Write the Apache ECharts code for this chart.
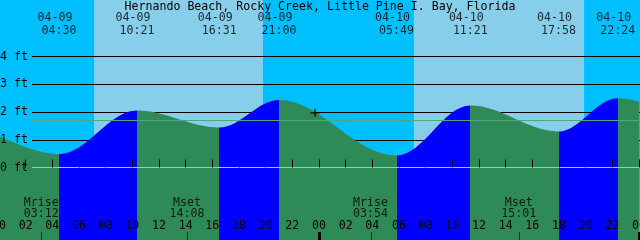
<!DOCTYPE html>
<html><head><meta charset="utf-8">
<script src="https://cdn.jsdelivr.net/npm/echarts@6/dist/echarts.min.js"></script>
<style>html,body{margin:0;padding:0;background:#00BFFF;overflow:hidden}#c{width:640px;height:240px}</style>
</head><body><div id="c"></div>
<script>
// ---------------- data ----------------
const chartTitle = 'Hernando Beach, Rocky Creek, Little Pine I. Bay, Florida';
// labelled tide extremes
const tideDates   = ['04-09', '04-09', '04-09', '04-09', '04-10', '04-10', '04-10', '04-10'];
const tideTimes   = ['04:30', '10:21', '16:31', '21:00', '05:49', '11:21', '17:58', '22:24'];
const tideHeights = [0.48, 2.05, 1.44, 2.43, 0.43, 2.23, 1.30, 2.50];
// extremes just outside the window (curve continues past the edges)
const edgeDates   = ['04-08', '04-11'];
const edgeTimes   = ['19:36', '07:10'];
const edgeHeights = [2.35, 0.40];
// daylight
const sunDates    = ['04-09', '04-10'];
const sunriseTimes = ['07:08', '07:07'];
const sunsetTimes  = ['19:48', '19:53'];
// moon
const moonLabels = ['Mrise', 'Mset', 'Mrise', 'Mset'];
const moonDates  = ['04-09', '04-09', '04-10', '04-10'];
const moonTimes  = ['03:12', '14:08', '03:54', '15:01'];
// axis ticks (hours from 04-09 00:00)
const hourTicks = [0, 2, 4, 6, 8, 10, 12, 14, 16, 18, 20, 22, 24, 26, 28, 30, 32, 34, 36, 38, 40, 42, 44, 46, 48];
const midnightTicks = [24, 48];
const heightTicks = [0, 1, 2, 3, 4];
const levelLines = [1, 2, 3, 4];
const datumLine = 0;
const meanHighLine = 1.7;
// current time marker
const nowDate = '04-09', nowTime = '23:42', nowHeight = 1.97;

// ---------------- layout ----------------
const FONT = '"DejaVu Sans Mono", "Liberation Mono", monospace';
const FS = 11.6;
const PX_PER_FT = 27.75, ZERO_PX = 167.5, H = 240;
const yMin = -(H - ZERO_PX) / PX_PER_FT, yMax = ZERO_PX / PX_PER_FT;
const ftAt = px => (ZERO_PX - px) / PX_PER_FT;

function hours(d, t) {
  const day = +d.split('-')[1];
  const [hh, mm] = t.split(':').map(Number);
  return (day - 9) * 24 + hh + mm / 60;
}
const pad = n => (n < 10 ? '0' : '') + n;

// water curve points
const pts = [];
edgeDates.forEach((d, i) => pts.push([hours(d, edgeTimes[i]), edgeHeights[i]]));
tideDates.forEach((d, i) => pts.push([hours(d, tideTimes[i]), tideHeights[i]]));
pts.sort((a, b) => a[0] - b[0]);

const BLUE = '#0000FF', GREEN = '#2E8B57';
const pieces = [];
pieces.push({ lt: pts[0][0], color: GREEN });
for (let i = 0; i < pts.length - 1; i++) {
  pieces.push({ gte: pts[i][0], lt: pts[i + 1][0], color: pts[i + 1][1] > pts[i][1] ? BLUE : GREEN });
}
pieces.push({ gte: pts[pts.length - 1][0], color: GREEN });

const dayAreas = sunDates.map((d, i) => [{ xAxis: hours(d, sunriseTimes[i]) }, { xAxis: hours(d, sunsetTimes[i]) }]);

const txt = { fontFamily: FONT, fontSize: FS, color: '#000', fontWeight: 'normal' };

const topDateData = tideDates.map((d, i) => ({ value: [hours(d, tideTimes[i]), ftAt(17.5)], name: d }));
const topTimeData = tideDates.map((d, i) => ({ value: [hours(d, tideTimes[i]), ftAt(30.5)], name: tideTimes[i] }));
const moonData = moonDates.map((d, i) => ({ value: [hours(d, moonTimes[i]), ftAt(208.2)], name: moonLabels[i] + '\n' + moonTimes[i] }));

function labelSeries(data, dx, extra) {
  return Object.assign({
    type: 'scatter', xAxisIndex: 0, yAxisIndex: 0, data, symbolSize: 0, silent: true, z: 6,
    label: Object.assign({ show: true, position: 'inside', offset: [dx, 0], formatter: p => p.name }, txt)
  }, extra || {});
}

const chart = echarts.init(document.getElementById('c'), null, { renderer: 'canvas' });
chart.setOption({
  animation: false,
  backgroundColor: '#00BFFF',
  title: { text: chartTitle, left: 'center', top: 0.5, padding: 0, z: 8,
    textStyle: Object.assign({ lineHeight: 12 }, txt) },
  grid: [
    { left: -1, width: 640, top: 0, height: 240, outerBoundsMode: 'none', containLabel: false },
    { left: 32, right: 0, top: 0, height: 240, outerBoundsMode: 'none', containLabel: false }
  ],
  xAxis: [
    { gridIndex: 0, type: 'value', min: 0, max: 48, position: 'bottom', z: 7,
      axisLine: { show: false }, splitLine: { show: false },
      axisTick: { show: true, inside: true, length: 8, customValues: hourTicks, lineStyle: { color: '#000', width: 1 } },
      axisLabel: Object.assign({ show: true, inside: true, margin: 8, customValues: hourTicks,
        formatter: v => pad(Math.round(v) % 24), lineHeight: 12 }, txt) },
    { gridIndex: 1, type: 'value', min: 0, max: 1, show: false },
    { gridIndex: 0, type: 'value', min: 0, max: 48, position: 'bottom', z: 7,
      axisLine: { show: false }, splitLine: { show: false }, axisLabel: { show: false },
      axisTick: { show: true, inside: true, length: 8, customValues: midnightTicks, lineStyle: { color: '#000', width: 3 } } },
    { gridIndex: 0, type: 'value', min: 0, max: 48, position: 'bottom', z: 7,
      axisLine: { show: false }, splitLine: { show: false }, axisLabel: { show: false },
      axisTick: { show: true, inside: true, length: 8, customValues: moonDates.map((d, i) => hours(d, moonTimes[i])), lineStyle: { color: '#222', width: 1 } } }
  ],
  yAxis: [
    { gridIndex: 0, type: 'value', min: yMin, max: yMax, show: false },
    { gridIndex: 1, type: 'value', min: yMin, max: yMax, position: 'left', z: 7,
      axisLine: { show: false }, axisTick: { show: false }, splitLine: { show: false },
      axisLabel: Object.assign({ show: true, margin: 4, customValues: heightTicks, formatter: v => v + ' ft' }, txt) }
  ],
  visualMap: { show: false, type: 'piecewise', seriesIndex: 2, dimension: 0, pieces },
  series: [
    { name: 'daylight', type: 'line', xAxisIndex: 0, yAxisIndex: 0, data: [], silent: true,
      markArea: { z: 1, silent: true, itemStyle: { color: '#87CEEB', opacity: 1 }, label: { show: false }, data: dayAreas } },
    { name: 'levels', type: 'line', xAxisIndex: 1, yAxisIndex: 1, data: [], silent: true,
      markLine: { z: 2, silent: true, symbol: ['none', 'none'], label: { show: false },
        lineStyle: { color: '#000', width: 1, type: 'solid' }, data: levelLines.map(v => ({ yAxis: v })) } },
    { name: 'tide', type: 'line', xAxisIndex: 0, yAxisIndex: 0, z: 3, data: pts,
      smooth: 0.363, smoothMonotone: 'x', showSymbol: false, silent: true,
      lineStyle: { width: 0 }, areaStyle: { opacity: 1, origin: 'start' } },
    { name: 'refs', type: 'line', xAxisIndex: 1, yAxisIndex: 1, data: [], silent: true,
      markLine: { z: 4, silent: true, symbol: ['none', 'none'], label: { show: false },
        lineStyle: { width: 1, type: 'solid' },
        data: [ { yAxis: datumLine, lineStyle: { color: '#87CEEB' } },
                { yAxis: meanHighLine, lineStyle: { color: '#4CA87E' } } ] } },
    { name: 'now', type: 'scatter', xAxisIndex: 0, yAxisIndex: 0, z: 5, silent: true,
      data: [[hours(nowDate, nowTime), nowHeight]],
      symbol: 'path://M0,3.5h9v1.2h-9z M3.9,0h1.2v8.2h-1.2z', symbolSize: [9, 8],
      itemStyle: { color: '#000', opacity: 1 } },
    labelSeries(topDateData, -4),
    labelSeries(topTimeData, 0),
    labelSeries(moonData, -0.5, { label: Object.assign({ show: true, position: 'inside', offset: [-0.5, 0], lineHeight: 11, formatter: p => p.name }, txt) })
  ]
});
</script>
</body></html>
